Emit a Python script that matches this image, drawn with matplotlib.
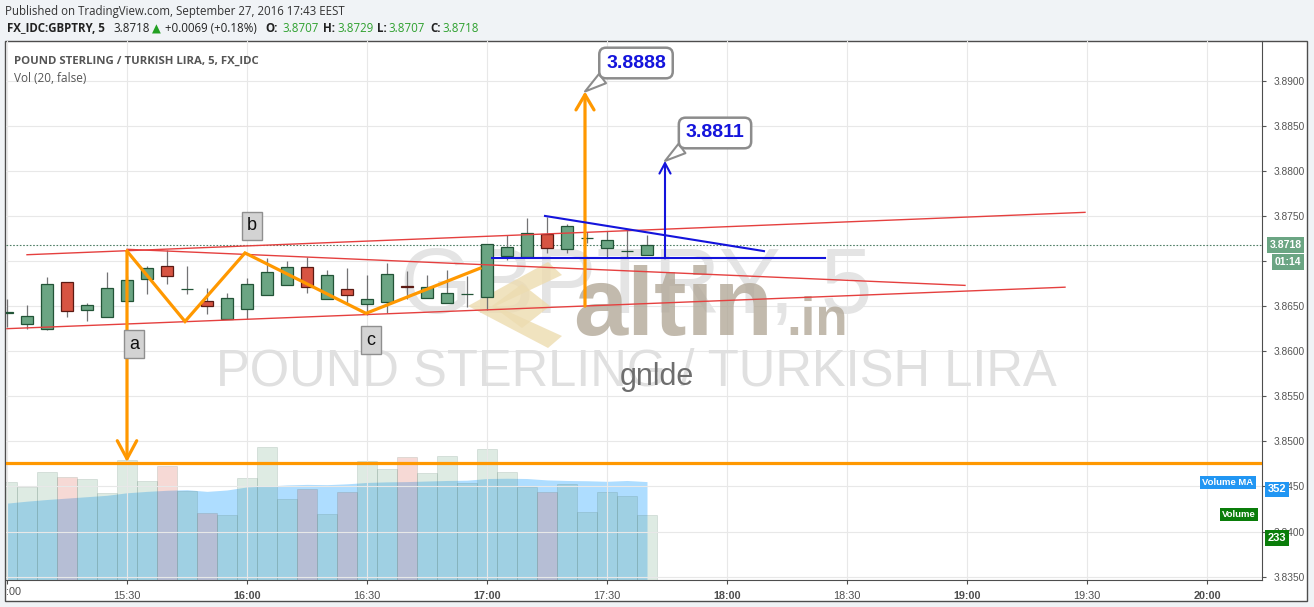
import matplotlib
matplotlib.use("Agg")
import matplotlib.pyplot as plt
import numpy as np
from matplotlib.patches import Rectangle, Polygon

plt.rcParams["font.family"] = ["Liberation Sans", "DejaVu Sans"]

W, H = 1314, 607

# 5-minute bars, minutes after 15:00
times = list(range(0, 165, 5))
opens = [3.8642, 3.8630, 3.8625, 3.8677, 3.8646, 3.8638, 3.8656, 3.8680, 3.8694, 3.8669, 3.8656,
         3.8636, 3.8647, 3.8662, 3.8673, 3.8693, 3.8658, 3.8669, 3.8652, 3.8655, 3.8672, 3.8659,
         3.8654, 3.8663, 3.8660, 3.8706, 3.8705, 3.8730, 3.8713, 3.8725, 3.8714, 3.8711, 3.8707]
closes = [3.8644, 3.8639, 3.8675, 3.8645, 3.8651, 3.8670, 3.8679, 3.8692, 3.8683, 3.8669, 3.8650,
          3.8659, 3.8674, 3.8688, 3.8693, 3.8671, 3.8684, 3.8662, 3.8658, 3.8686, 3.8671, 3.8671,
          3.8665, 3.8663, 3.8719, 3.8716, 3.8731, 3.8715, 3.8739, 3.8725, 3.8723, 3.8711, 3.8718]
highs = [3.8658, 3.8651, 3.8682, 3.8677, 3.8654, 3.8688, 3.8683, 3.8695, 3.8712, 3.8695, 3.8670,
         3.8665, 3.8681, 3.8703, 3.8700, 3.8704, 3.8690, 3.8692, 3.8685, 3.8698, 3.8689, 3.8685,
         3.8690, 3.8683, 3.8719, 3.8729, 3.8748, 3.8749, 3.8741, 3.8732, 3.8733, 3.8734, 3.8729]
lows = [3.8627, 3.8625, 3.8624, 3.8638, 3.8634, 3.8638, 3.8654, 3.8663, 3.8674, 3.8664, 3.8641,
        3.8636, 3.8636, 3.8662, 3.8673, 3.8665, 3.8658, 3.8653, 3.8640, 3.8642, 3.8658, 3.8659,
        3.8654, 3.8649, 3.8646, 3.8701, 3.8705, 3.8709, 3.8709, 3.8720, 3.8704, 3.8704, 3.8707]
volumes = [350, 332, 386, 368, 361, 311, 430, 354, 408, 318, 239, 232, 364, 476, 289, 326, 236,
           314, 425, 397, 440, 382, 443, 347, 468, 386, 332, 314, 344, 244, 314, 300, 233]
volume_ma = [275, 282, 288, 293, 298, 303, 312, 317, 321, 323, 317, 322, 333, 336, 340, 342, 341,
             344, 349, 351, 352, 354, 356, 357, 363, 364, 363, 358, 356, 355, 353, 356, 352]

price_ticks = np.arange(3.835, 3.8901, 0.005)
time_ticks = list(range(0, 301, 30))
last_price = 3.8718

# drawings (minutes, price)
channel_lines = [[(5, 3.8707), (269.5, 3.8754)],
                 [(30, 3.8713), (239.5, 3.8673)],
                 [(0, 3.8625), (264.5, 3.8671)]]
zigzag_t = [30, 44.5, 59.5, 89.75, 118.25]
zigzag_p = [3.8711, 3.8633, 3.8709, 3.8642, 3.8692]
target_level = 3.8476
wave_labels = [("a", 31.75, 3.8608), ("b", 61.25, 3.8739), ("c", 91, 3.8612)]
blue_base = 3.8703
blue_falling = [(134.5, 3.8750), (189.25, 3.8711)]

GREEN, RED = "#6ba583", "#d75442"
ORANGE, BLUE = "#ff9800", "#1414dc"


def fx(px):
    return px / W


def fy(py):
    return 1 - py / H


fig = plt.figure(figsize=(W / 100, H / 100), dpi=100, facecolor="#f0f3f6")
fig.patches.append(Rectangle((fx(5), fy(601)), (1307 - 5) / W, (601 - 41) / H,
                             transform=fig.transFigure, facecolor="white",
                             edgecolor="#4d4d4d", lw=1, zorder=-1))

ax = fig.add_axes([fx(6), fy(580), (1262 - 6) / W, (580 - 41) / H])
axv = ax.twinx()
ax.set_zorder(axv.get_zorder() + 1)
ax.patch.set_visible(False)
axv.patch.set_visible(False)

ax.set_xlim(-0.25, 313.75)
ax.set_ylim(3.83463, 3.89440)
axv.set_ylim(0, 1928)
axv.set_yticks([])
for s in axv.spines.values():
    s.set_visible(False)

for s in ["top", "left"]:
    ax.spines[s].set_visible(False)
for s in ["right", "bottom"]:
    ax.spines[s].set_color("#4d4d4d")

ax.yaxis.tick_right()
ax.set_yticks(price_ticks)
# 3.8700 sits under the last-price / countdown labels
ax.set_yticklabels(["" if abs(p - 3.87) < 1e-6 else f"{p:.4f}" for p in price_ticks])
ax.tick_params(axis="y", length=3, pad=5, labelsize=7.3, colors="#555555")
ax.set_xticks(time_ticks)
labels = ["" if t == 0 else f"{15 + t // 60}:{t % 60:02d}" for t in time_ticks]
ax.set_xticklabels(labels)
ax.tick_params(axis="x", length=3, pad=5, labelsize=7.8, colors="#4d4d4d")
for t, lab in zip(time_ticks, ax.get_xticklabels()):
    if t % 60 == 0:
        lab.set_fontweight("bold")
fig.text(fx(6), fy(592), ":00", fontsize=7.8, color="#4d4d4d", va="center")
ax.grid(True, color="#e8e8e8", lw=0.8)
ax.set_axisbelow(True)

# volume + MA
vcolors = [GREEN if c >= o else RED for o, c in zip(opens, closes)]
axv.fill_between(times, 0, volume_ma, color="#0496ff", alpha=0.32, lw=0)
axv.bar(times, volumes, width=5, color=vcolors, alpha=0.22, edgecolor="#4a6a5a", lw=0.5)

# watermarks, behind the candles
ftr = fig.transFigure
ax.text(fx(636), fy(313), "GBPTRY, 5", fontsize=67, color="#e4e4e4", ha="center",
        va="baseline", transform=ftr, zorder=1)
ax.text(fx(636), fy(386), "POUND STERLING / TURKISH LIRA", fontsize=36.5, color="#e0e0e0",
        ha="center", va="baseline", transform=ftr, zorder=1)
logo = [[(548, 262), (468, 306), (548, 348), (562, 336), (496, 306), (562, 275)],
        [(522, 284), (492, 306), (522, 328), (550, 306)]]
for pts in logo:
    ax.add_patch(Polygon([(fx(x), fy(y)) for x, y in pts], closed=True, transform=ftr,
                         facecolor="#eddcb0", edgecolor="none", alpha=0.8, zorder=1.2))
ax.text(fx(573), fy(335), "altin", fontsize=70, fontweight="bold", color="#b3a999",
        alpha=0.8, va="baseline", transform=ftr, zorder=1.4)
ax.text(fx(786), fy(335), ".in", fontsize=38, fontweight="bold", color="#b3a999",
        alpha=0.8, va="baseline", transform=ftr, zorder=1.4)
ax.text(162.5, 3.85626, "gnlde", fontsize=22, color="#6e6e6e", ha="center", va="baseline",
        zorder=1.5)

# candles
for t, o, h, l, c in zip(times, opens, highs, lows, closes):
    up = c >= o
    ax.vlines(t, l, h, color="#737375", lw=0.9, zorder=3)
    ax.add_patch(Rectangle((t - 1.5, min(o, c)), 3, max(abs(c - o), 0.00001),
                           facecolor=GREEN if up else RED,
                           edgecolor="#225437" if up else "#5b1a13", lw=0.9, zorder=4))

ax.axhline(last_price, color="#4f7f66", lw=0.8, ls=(0, (1.5, 1.5)), zorder=2)

# channel lines
for (t0, p0), (t1, p1) in channel_lines:
    ax.plot([t0, t1], [p0, p1], color="#e5403f", lw=1.0, zorder=5)

# orange pattern
ax.plot(zigzag_t, zigzag_p, color=ORANGE, lw=2.3, zorder=6, solid_joinstyle="miter")
ax.axhline(target_level, color=ORANGE, lw=2.3, zorder=6)
ax.annotate("", xy=(30, target_level + 0.0001), xytext=(30, 3.8711),
            arrowprops=dict(arrowstyle="->,head_length=1.3,head_width=0.7", color=ORANGE,
                            lw=2.3, shrinkA=0, shrinkB=0, mutation_scale=10), zorder=6)
ax.annotate("", xy=(144.5, 3.8888), xytext=(144.5, 3.8650),
            arrowprops=dict(arrowstyle="->,head_length=1.1,head_width=0.65", color=ORANGE,
                            lw=2.3, shrinkA=0, shrinkB=0, mutation_scale=10), zorder=6)

# blue pattern
ax.plot([121.25, 204.5], [blue_base, blue_base], color=BLUE, lw=1.5, zorder=6)
ax.plot(*zip(*blue_falling), color=BLUE, lw=1.5, zorder=6)
ax.annotate("", xy=(164.5, 3.8811), xytext=(164.5, blue_base),
            arrowprops=dict(arrowstyle="->,head_length=0.75,head_width=0.4", color=BLUE,
                            lw=1.5, shrinkA=0, shrinkB=0, mutation_scale=10), zorder=6)

# callouts
for txt, pt, box in [("3.8888", (144.5, 3.8888), (157.25, 3.89196)),
                     ("3.8811", (164.5, 3.8811), (177.0, 3.8842))]:
    ax.annotate(txt, xy=pt, xytext=box, ha="center", va="center", fontsize=14,
                fontweight="bold", color=BLUE, zorder=8,
                bbox=dict(boxstyle="round,pad=0.35", fc="white", ec="#8c8c8c", lw=1.8),
                arrowprops=dict(arrowstyle="wedge,tail_width=0.6,shrink_factor=0.5",
                                fc="white", ec="#8c8c8c", lw=1.5, shrinkA=0, shrinkB=0,
                                relpos=(0.1, 0.0)))

for txt, t, p in wave_labels:
    ax.text(t, p, txt, fontsize=13, ha="center", va="center", color="#111111", zorder=8,
            bbox=dict(boxstyle="square,pad=0.3", fc="#d3d3d3", ec="#8f8f8f", lw=1))

# header
fig.text(fx(5), fy(11), "Published on TradingView.com, September 27, 2016 17:43 EEST",
         fontsize=8.3, family=["Open Sans", "DejaVu Sans"], color="#333333", va="center")
hdr = [(7, "FX_IDC:GBPTRY, 5", "#222222", "bold"), (113, "3.8718", "#222222", "normal"),
       (152, "\u25b2", "#22a022", "normal"), (165, "+0.0069 (+0.18%)", "#222222", "normal"),
       (265, "O:", "#222222", "bold"), (282, "3.8707", "#2ea02e", "normal"),
       (323, "H:", "#222222", "bold"), (337, "3.8729", "#2ea02e", "normal"),
       (377, "L:", "#222222", "bold"), (388, "3.8707", "#2ea02e", "normal"),
       (430, "C:", "#222222", "bold"), (442, "3.8718", "#2ea02e", "normal")]
for x, s, col, w in hdr:
    fig.text(fx(x), fy(29), s, fontsize=8.3, family=["Open Sans", "DejaVu Sans"],
             color=col, fontweight=w, va="center")

fig.text(fx(14), fy(61), "POUND STERLING / TURKISH LIRA, 5, FX_IDC", fontsize=8.2,
         family=["Open Sans", "DejaVu Sans"], fontweight="bold", color="#555555", va="center")
fig.text(fx(14), fy(78), "Vol (20, false)", fontsize=8.5,
         family=["Open Sans", "DejaVu Sans"], color="#555555", va="center")

# right scale labels
for x, y, s, bg, size in [(1285.5, 245, "3.8718", GREEN, 7.5), (1288, 262, "01:14", GREEN, 7.5),
                          (1228, 482.5, "Volume MA", "#2196f3", 6.8), (1277, 489.5, "352", "#2196f3", 8),
                          (1239, 514.5, "Volume", "#0a7d0a", 6.8), (1277, 538, "233", "#0a7d0a", 8)]:
    fig.text(fx(x), fy(y), s, fontsize=size, fontweight="bold", color="white", ha="center",
             va="center", zorder=5,
             bbox=dict(boxstyle="square,pad=0.25", fc=bg, ec="none"))

fig.savefig("out.png", dpi=100, facecolor=fig.get_facecolor())
